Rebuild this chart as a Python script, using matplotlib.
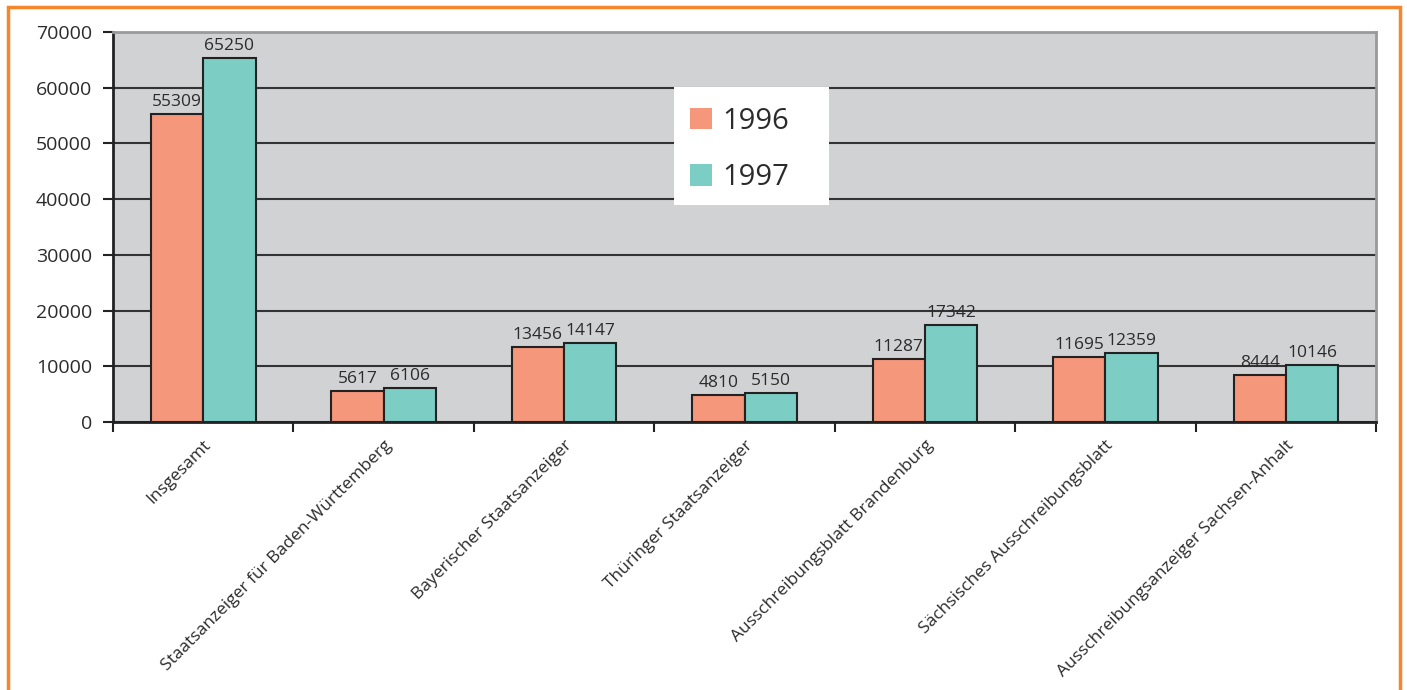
import matplotlib.pyplot as plt
import numpy as np
from matplotlib.patches import Rectangle

plt.rcParams['font.family'] = ['Open Sans', 'DejaVu Sans']

categories = ['Insgesamt', 'Staatsanzeiger für Baden-Württemberg', 'Bayerischer Staatsanzeiger',
              'Thüringer Staatsanzeiger', 'Ausschreibungsblatt Brandenburg',
              'Sächsisches Ausschreibungsblatt', 'Ausschreibungsanzeiger Sachsen-Anhalt']
v1996 = [55309, 5617, 13456, 4810, 11287, 11695, 8444]
v1997 = [65250, 6106, 14147, 5150, 17342, 12359, 10146]

txt = '#2b2b2b'
fig = plt.figure(figsize=(14.07, 6.9), dpi=100)
ax = fig.add_axes([0.0803, 0.3884, 0.8977, 0.5652])
ax.set_facecolor('#d1d2d4')

x = np.arange(len(categories))
w = 0.29
b1 = ax.bar(x - w / 2, v1996, w, color='#f4977a', edgecolor='#222222', linewidth=1.5, label='1996', zorder=3)
b2 = ax.bar(x + w / 2, v1997, w, color='#7ccdc4', edgecolor='#222222', linewidth=1.5, label='1997', zorder=3)
for bars in (b1, b2):
    for r in bars:
        ax.annotate(str(int(r.get_height())), (r.get_x() + r.get_width() / 2, r.get_height()),
                    xytext=(0, 3), textcoords='offset points', ha='center', va='bottom',
                    fontsize=12.5, color=txt)

ax.set_xlim(-0.5, len(categories) - 0.5)
ax.set_ylim(0, 70000)
ax.set_yticks(np.arange(0, 70001, 10000))
ax.yaxis.grid(True, color='#333333', linewidth=1.5, zorder=1)
ax.set_axisbelow(True)
ax.tick_params(axis='y', labelsize=14, labelcolor=txt, length=7, width=1.5, color='#222222', pad=8)

ax.set_xticks(np.arange(-0.5, len(categories)), minor=False)
ax.set_xticklabels([])
ax.set_xticks(x, minor=True)
ax.set_xticklabels(categories, minor=True, rotation=45, ha='right', rotation_mode='anchor',
                   fontsize=12.5, color=txt)
ax.tick_params(axis='x', which='major', length=7, width=1.5, color='#222222')
ax.tick_params(axis='x', which='minor', length=0, pad=11)

for s in ('left', 'bottom'):
    ax.spines[s].set_color('#222222')
    ax.spines[s].set_linewidth(2)
for s in ('top', 'right'):
    ax.spines[s].set_color('#9a9a9a')
    ax.spines[s].set_linewidth(2)
ax.spines['top'].set_zorder(5)

# white legend box, wider than the entries
ax.add_patch(Rectangle((0.4442, 0.556), 0.1227, 0.303, transform=ax.transAxes,
                       facecolor='white', edgecolor='none', zorder=4))
leg = ax.legend(loc='upper left', bbox_to_anchor=(0.4568, 0.809), fontsize=21, frameon=False,
                handlelength=0.75, handleheight=0.75, handletextpad=0.35, labelspacing=0.95,
                borderpad=0, borderaxespad=0, labelcolor=txt)
leg.set_zorder(6)
for h in leg.legend_handles:
    h.set_edgecolor('none')

fig.add_artist(Rectangle((0.0055, -0.05), 0.9895, 1.04, transform=fig.transFigure,
                         fill=False, edgecolor='#f5862c', linewidth=2.5))

fig.savefig('out.png', dpi=100)
